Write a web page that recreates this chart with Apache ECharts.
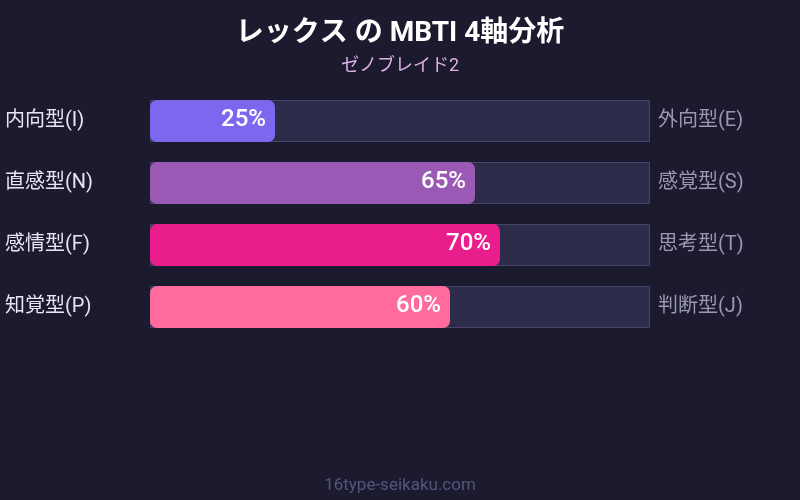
<!DOCTYPE html>
<html>
<head>
<meta charset="utf-8">
<style>
    html, body {margin:0;padding:0;background:#1b1a2e;}
    #chart {width:800px;height:500px;}
</style>
</head>
<body>
<div id="chart"></div>
<script src="https://cdn.jsdelivr.net/npm/echarts@6/dist/echarts.min.js"></script>
<script>
var leftLabels = ['内向型(I)', '直感型(N)', '感情型(F)', '知覚型(P)'];
var rightLabels = ['外向型(E)', '感覚型(S)', '思考型(T)', '判断型(J)'];
var scores = [25, 65, 70, 60];
var barColors = ['#7b68ee', '#9b59b6', '#e91e8c', '#ff6b9d'];
var fullScale = [100, 100, 100, 100];

var font = 'Roboto, "Noto Sans CJK JP", sans-serif';

var chart = echarts.init(document.getElementById('chart'));

var option = {
    backgroundColor: '#1b1a2e',
    textStyle: {fontFamily: font},
    title: {
        text: 'レックス の MBTI 4軸分析',
        subtext: 'ゼノブレイド2',
        left: 'center',
        top: 15,
        itemGap: 9,
        textStyle: {color: '#ffffff', fontSize: 28, fontWeight: 'bold', fontFamily: font},
        subtextStyle: {color: '#e0b0e8', fontSize: 18, fontFamily: font}
    },
    grid: {left: 150, right: 150, top: 90, height: 248},
    xAxis: {
        type: 'value', min: 0, max: 100, show: false
    },
    yAxis: [{
        type: 'category',
        data: leftLabels,
        inverse: true,
        axisLine: {show: false},
        axisTick: {show: false},
        axisLabel: {color: '#e6e6f2', fontSize: 20, align: 'left', margin: 145, padding: [0, 0, 7, 0], fontFamily: font}
    }, {
        type: 'category',
        data: rightLabels,
        inverse: true,
        position: 'right',
        axisLine: {show: false},
        axisTick: {show: false},
        axisLabel: {color: '#9a98b2', fontSize: 20, margin: 8, padding: [0, 0, 7, 0], fontFamily: font}
    }],
    series: [{
        // 背景バー
        type: 'bar',
        data: fullScale,
        barWidth: 42,
        silent: true,
        itemStyle: {color: '#2d2b4a', borderColor: '#48466e', borderWidth: 1},
        z: 1
    }, {
        type: 'bar',
        data: scores.map(function(v, i){
            return {value: v, itemStyle: {color: barColors[i]}};
        }),
        barWidth: 42,
        barGap: '-100%',
        itemStyle: {borderRadius: 7},
        label: {
            show: true,
            position: 'insideRight',
            distance: 9,
            offset: [0, -1],
            formatter: '{c}%',
            color: '#ffffff',
            fontSize: 24,
            fontWeight: 500,
            fontFamily: font
        },
        z: 2
    }],
    graphic: [{
        type: 'text',
        left: 'center',
        top: 477,
        style: {text: '16type-seikaku.com', fill: '#55547a', fontSize: 17, fontFamily: font}
    }]
};

chart.setOption(option);
</script>
</body>
</html>
